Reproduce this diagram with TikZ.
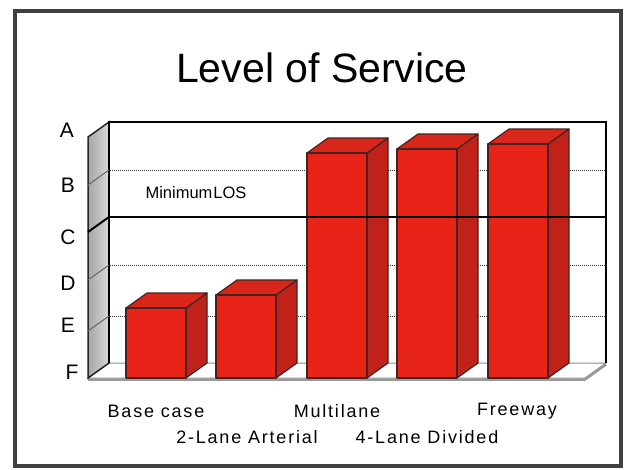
\documentclass[tikz,border=0pt]{standalone}
\usepackage{fontspec}
\setmainfont{Liberation Sans}
\newfontfamily\lblfont[LetterSpace=10]{Liberation Sans}
\begin{document}
\begin{tikzpicture}[x=1pt,y=-1pt,
  barfront/.style={fill=barF,draw=barEdge,line width=1.2pt,line join=round},
  barside/.style={fill=barS,draw=barEdge,line width=1.2pt,line join=round},
  bartop/.style={fill=barT,draw=barEdge,line width=1.2pt,line join=round},
  gridline/.style={densely dotted,line width=1pt,black!80},
  axislbl/.style={font=\fontsize{21}{21}\selectfont,anchor=center,inner sep=0pt},
  catlbl/.style={font=\lblfont\fontsize{18}{18}\selectfont,anchor=center,inner sep=0pt}]
\definecolor{barF}{RGB}{232,36,24}
\definecolor{barS}{RGB}{192,34,26}
\definecolor{barT}{RGB}{216,38,26}
\definecolor{barEdge}{RGB}{70,35,35}
\definecolor{wallgray}{RGB}{196,196,196}
\useasboundingbox (0,0) rectangle (632,469);
\fill[white] (0,0) rectangle (632,469);
% outer frame
\draw[line width=3.5pt,black!75] (15,11) rectangle (621,466);
% title
\node[font=\fontsize{41}{41}\selectfont,inner sep=0pt] (title) at (322,68) {Level of Service};
% floor
\filldraw[fill=white,draw=black!45,line width=1pt] (109,363) -- (606,363) -- (585,378) -- (88,378) -- cycle;
\draw[black!40,line width=2.5pt] (88,379.5) -- (585,379.5) -- (606,364.5);
% side wall
\filldraw[left color=black!35,right color=black!15,draw=black!85,line width=1.5pt] (88,137) -- (109,122) -- (109,363) -- (88,378) -- cycle;
% back wall
\draw[black,line width=1.8pt] (109,363) -- (109,122) -- (606,122) -- (606,363);
% grid lines
\foreach \yy in {170,265,316}{
  \draw[gridline] (110,\yy) -- (605,\yy);
  \draw[black!60,line width=1pt] (88,\yy+15) -- (109,\yy);
}
% labels
\node[axislbl] (la) at (67,130) {A};
\node[axislbl] (lb) at (68,185) {B};
\node[axislbl] (lc) at (68,237) {C};
\node[axislbl] (ld) at (68,283) {D};
\node[axislbl] (le) at (68,325) {E};
\node[axislbl] (lf) at (72,372) {F};
\node[font=\fontsize{16.5}{16.5}\selectfont,inner sep=0pt] (minlos) at (196,193) {Minimum\hspace{1pt}LOS};
% bars
\foreach \bx/\bt in {126/308,216/295,307/153,397/149,488/144}{
  \filldraw[barside] (\bx+60,\bt) -- (\bx+81,\bt-15) -- (\bx+81,363) -- (\bx+60,378) -- cycle;
  \filldraw[bartop] (\bx,\bt) -- (\bx+21,\bt-15) -- (\bx+81,\bt-15) -- (\bx+60,\bt) -- cycle;
  \filldraw[barfront] (\bx,\bt) rectangle (\bx+60,378);
}
% minimum LOS line
\draw[black,line width=2.5pt] (109,217) -- (606,217);
\draw[black,line width=2pt] (88,232) -- (109,217);
% category labels
\node[catlbl] (c1) at (156,411) {Base case};
\node[catlbl] (c2) at (247,437) {2-Lane Arterial};
\node[catlbl] (c3) at (337,411) {Multilane};
\node[catlbl] (c4) at (427,437) {4-Lane Divided};
\node[catlbl] (c5) at (517,411) {Freeway};
\end{tikzpicture}
\end{document}
